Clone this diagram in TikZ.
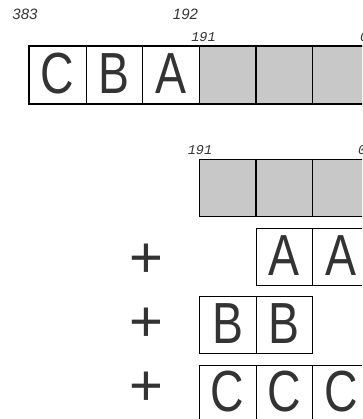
\documentclass[tikz,border=0pt]{standalone}
\usepackage{fontspec}
\setmainfont{Liberation Sans}
\newfontfamily\cellfont[FakeStretch=0.8]{Liberation Sans}
\newfontfamily\idxsans{Liberation Sans}
\newfontfamily\idxmono{Liberation Mono}
\definecolor{slotgray}{HTML}{C8C8C8}
\definecolor{ink}{HTML}{333333}

\begin{document}
\begin{tikzpicture}[
    x=1pt, y=-1pt,
    cell/.style={
        rectangle, draw=black, line width=0.9pt, fill=white,
        minimum width=56.7pt, minimum height=56.7pt, inner sep=0pt,
        text height=41.6pt, text depth=5pt, text=ink,
        font=\cellfont\fontsize{58}{58}\selectfont
    },
    slot/.style={
        rectangle, draw=black, line width=1.5pt, fill=slotgray,
        minimum width=56.7pt, minimum height=56.7pt, inner sep=0pt
    },
    plus/.style={text=ink, inner sep=0pt, font=\fontsize{58}{58}\selectfont},
    hi/.style={text=ink, inner sep=0pt, font=\idxsans\itshape\fontsize{15}{15}\selectfont},
    lo/.style={text=ink, inner sep=0pt, font=\idxmono\itshape\fontsize{13.5}{13.5}\selectfont}
]
\clip (0,0) rectangle (362,419);

% the wide value
\node[cell] (topC)  at (57.7,  75) {C};
\node[cell] (topB)  at (114.3, 75) {B};
\node[cell] (topA)  at (171,   75) {A};
\node[slot] (topG1) at (227.7, 75) {};
\node[slot] (topG2) at (284.3, 75) {};
\node[slot] (topG3) at (341,   75) {};
\draw[line width=1.5pt] (topC.north west) rectangle (topG3.south east);

\node[hi] (lblHi)   at (25,    14)   {383};
\node[hi] (lblMid)  at (185.5, 14)   {192};
\node[lo] (lblLo)   at (203.5, 36.7) {191};
\node[lo, anchor=west] (lblZero) at (360, 36.7) {0};

% the sum of the parts
\node[slot] (sumG1) at (227.7, 188) {};
\node[slot] (sumG2) at (284.3, 188) {};
\node[slot] (sumG3) at (341,   188) {};
\node[lo] (lblLo2) at (200, 150) {191};
\node[lo, anchor=west] (lblZero2) at (358, 150) {0};

\node[plus] (plusA) at (146, 261) {+};
\node[cell] (addA1) at (284.3, 257) {A};
\node[cell] (addA2) at (341,   257) {A};

\node[plus] (plusB) at (146, 325) {+};
\node[cell] (addB1) at (227.7, 324.7) {B};
\node[cell] (addB2) at (284.3, 324.7) {B};

\node[plus] (plusC) at (146, 389) {+};
\node[cell] (addC1) at (227.7, 393.5) {C};
\node[cell] (addC2) at (284.3, 393.5) {C};
\node[cell] (addC3) at (341,   393.5) {C};

\end{tikzpicture}
\end{document}
